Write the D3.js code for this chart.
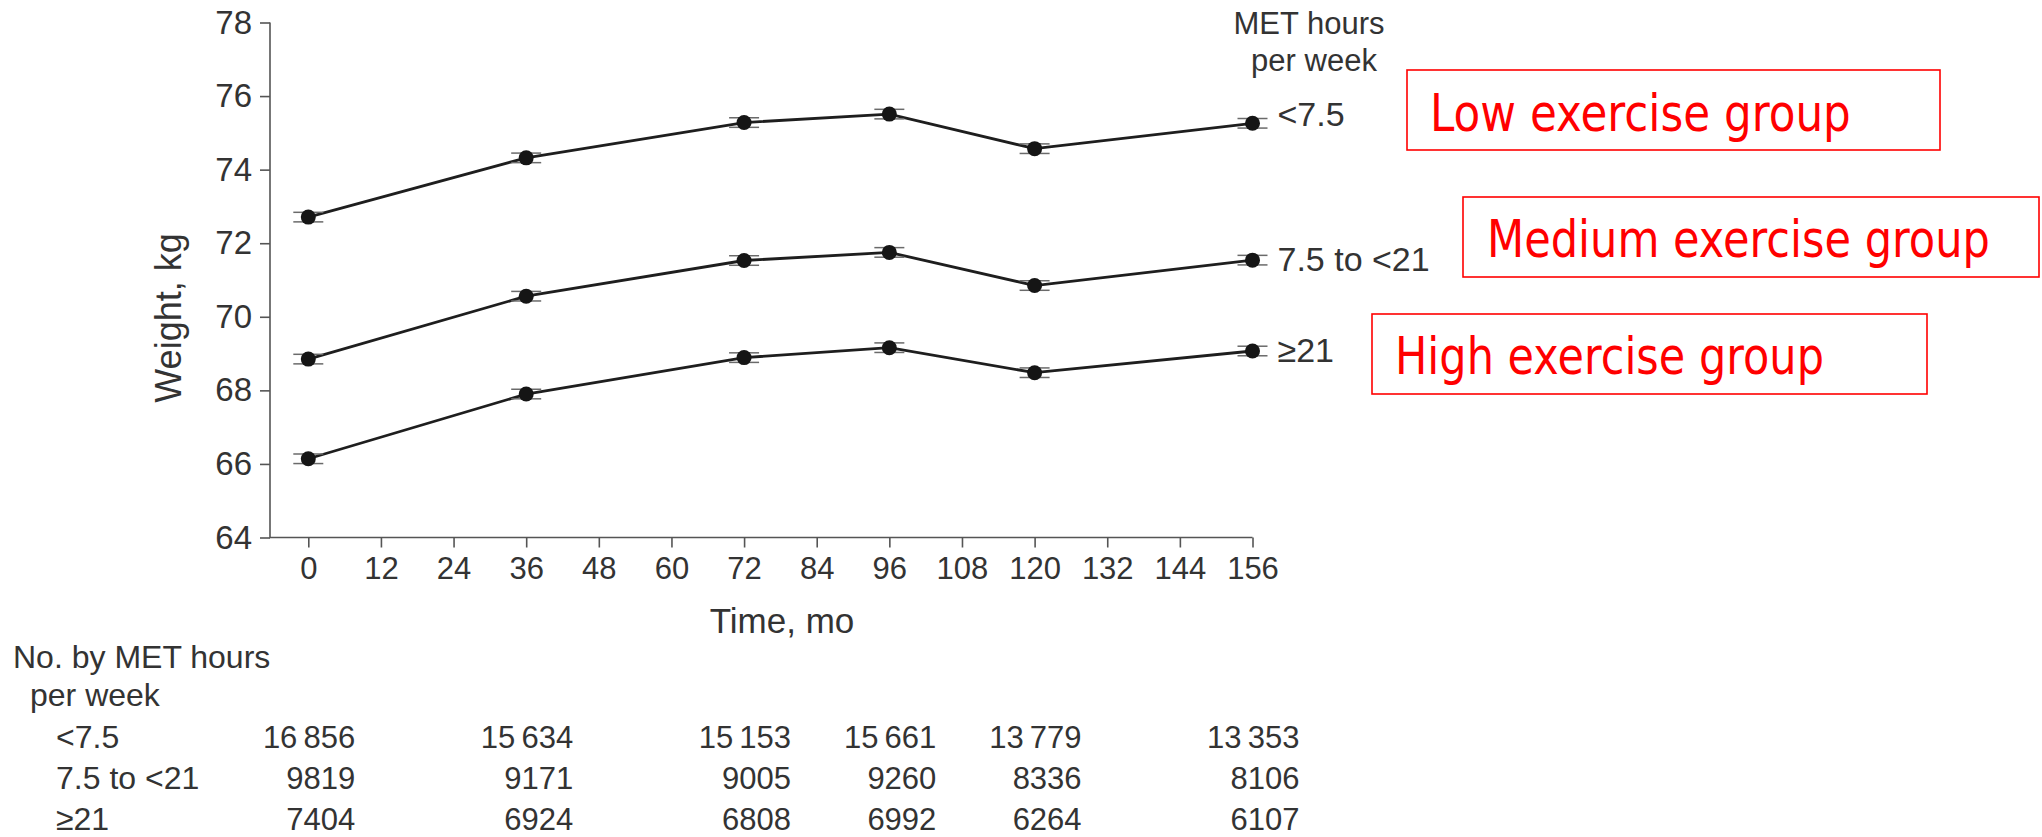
<!DOCTYPE html>
<html>
<head>
<meta charset="utf-8">
<script src="https://cdn.jsdelivr.net/npm/d3@7"></script>
<style>
  html, body { margin: 0; padding: 0; background: #fff; }
  svg { display: block; }
</style>
</head>
<body>
<svg id="chart" width="2042" height="837"></svg>
<script>
// Follow-up months at which weight was measured
const months = [0, 36, 72, 96, 120, 156];

// Mean weight (kg) by MET-hours-per-week group
const lowWeight    = [72.71, 74.32, 75.28, 75.51, 74.57, 75.26];
const mediumWeight = [68.85, 70.56, 71.53, 71.75, 70.85, 71.54];
const highWeight   = [66.14, 67.90, 68.89, 69.16, 68.48, 69.07];

// Standard error of the mean weight (kg)
const lowErr    = [0.13, 0.13, 0.13, 0.13, 0.13, 0.13];
const mediumErr = [0.13, 0.13, 0.13, 0.13, 0.13, 0.13];
const highErr   = [0.13, 0.13, 0.13, 0.13, 0.13, 0.13];

// Group labels
const groupLabels = ["<7.5", "7.5 to <21", "\u226521"];
const groupNames  = ["Low exercise group", "Medium exercise group", "High exercise group"];

// Number at risk per group at each measured month
const lowCounts    = ["16\u2009856", "15\u2009634", "15\u2009153", "15\u2009661", "13\u2009779", "13\u2009353"];
const mediumCounts = ["9819", "9171", "9005", "9260", "8336", "8106"];
const highCounts   = ["7404", "6924", "6808", "6992", "6264", "6107"];

// Axis ticks
const xTicks = d3.range(0, 157, 12);
const yTicks = d3.range(64, 79, 2);

const series = [
  { label: groupLabels[0], name: groupNames[0], values: lowWeight,    err: lowErr,    counts: lowCounts,    dy: 3 },
  { label: groupLabels[1], name: groupNames[1], values: mediumWeight, err: mediumErr, counts: mediumCounts, dy: 11 },
  { label: groupLabels[2], name: groupNames[2], values: highWeight,   err: highErr,   counts: highCounts,   dy: 11 }
];

const svg = d3.select("#chart");
const FONT = "'Liberation Sans', Arial, Helvetica, sans-serif";
const TXT = "#333";
const AXIS = "#555";

const x = d3.scaleLinear().domain([0, 156]).range([308.3, 1252.5]);
const y = d3.scaleLinear().domain([64, 78]).range([537.5, 22.5]);
const axisLeftX = 270;

// Axis lines
svg.append("path")
  .attr("d", `M${axisLeftX},${y(78)}V${y(64)}H${x(156)}`)
  .attr("fill", "none").attr("stroke", AXIS).attr("stroke-width", 1.6);

// Y axis ticks and labels
const yAxis = d3.axisLeft(y).tickValues(yTicks).tickSize(10).tickSizeOuter(0).tickPadding(8);
const gy = svg.append("g").attr("transform", `translate(${axisLeftX},0)`).call(yAxis);
gy.select(".domain").remove();
gy.selectAll(".tick line").attr("stroke", AXIS).attr("stroke-width", 1.6);
gy.selectAll(".tick text").attr("fill", TXT).style("font-family", FONT).style("font-size", "33px");

// X axis ticks and labels
const xAxis = d3.axisBottom(x).tickValues(xTicks).tickSize(10).tickSizeOuter(0).tickPadding(9);
const gx = svg.append("g").attr("transform", `translate(0,${y(64)})`).call(xAxis);
gx.select(".domain").remove();
gx.selectAll(".tick line").attr("stroke", AXIS).attr("stroke-width", 1.6);
gx.selectAll(".tick text").attr("fill", TXT).style("font-family", FONT).style("font-size", "31px");

// Axis titles
svg.append("text")
  .attr("transform", `translate(181,318) rotate(-90)`)
  .attr("text-anchor", "middle").attr("fill", TXT)
  .style("font-family", FONT).style("font-size", "36px")
  .text("Weight, kg");

svg.append("text")
  .attr("x", 782).attr("y", 633)
  .attr("text-anchor", "middle").attr("fill", TXT)
  .style("font-family", FONT).style("font-size", "35px")
  .text("Time, mo");

// Legend header
const hdr = svg.append("text").attr("text-anchor", "middle").attr("fill", TXT)
  .style("font-family", FONT).style("font-size", "31px");
hdr.append("tspan").attr("x", 1309).attr("y", 34).text("MET hours");
hdr.append("tspan").attr("x", 1314).attr("y", 71).text("per week");

// Lines, error bars and points
const line = d3.line().x((d, i) => x(months[i])).y(d => y(d));

series.forEach(s => {
  svg.append("path")
    .datum(s.values)
    .attr("d", line)
    .attr("fill", "none").attr("stroke", "#1e1e1e").attr("stroke-width", 2.8);

  const g = svg.append("g");
  s.values.forEach((v, i) => {
    const cx = x(months[i]);
    [v + s.err[i], v - s.err[i]].forEach(e => {
      g.append("line")
        .attr("x1", cx - 15).attr("x2", cx + 15)
        .attr("y1", y(e)).attr("y2", y(e))
        .attr("stroke", "#6a6a6a").attr("stroke-width", 1.5);
    });
    g.append("line")
      .attr("x1", cx).attr("x2", cx)
      .attr("y1", y(v + s.err[i])).attr("y2", y(v - s.err[i]))
      .attr("stroke", "#6a6a6a").attr("stroke-width", 1.5);
    g.append("circle")
      .attr("cx", cx).attr("cy", y(v)).attr("r", 7.5)
      .attr("fill", "#151515");
  });

  // Group label at the end of the line
  svg.append("text")
    .attr("x", x(156) + 25).attr("y", y(s.values[s.values.length - 1]) + s.dy)
    .attr("fill", TXT).style("font-family", FONT).style("font-size", "34px")
    .text(s.label);
});

// Numbers at risk table
const tbl = svg.append("g").style("font-family", FONT).attr("fill", TXT);
tbl.append("text").attr("x", 13).attr("y", 668).style("font-size", "32px").text("No. by MET hours");
tbl.append("text").attr("x", 30).attr("y", 706).style("font-size", "32px").text("per week");
const rowY = [748, 789, 830];
series.forEach((s, r) => {
  tbl.append("text").attr("x", 56).attr("y", rowY[r]).style("font-size", "32px").text(s.label);
  s.counts.forEach((c, i) => {
    tbl.append("text")
      .attr("x", x(months[i]) + 47).attr("y", rowY[r])
      .attr("text-anchor", "end").style("font-size", "31px").text(c);
  });
});

// Group annotation boxes
const boxes = [
  { x0: 1407, y0: 70,  x1: 1940, y1: 150, tx: 1430, ty: 131, tw: 421 },
  { x0: 1463, y0: 197, x1: 2039, y1: 277, tx: 1487, ty: 257, tw: 503 },
  { x0: 1372, y0: 314, x1: 1927, y1: 394, tx: 1395, ty: 374, tw: 429 }
];
boxes.forEach((b, i) => {
  svg.append("rect")
    .attr("x", b.x0).attr("y", b.y0)
    .attr("width", b.x1 - b.x0).attr("height", b.y1 - b.y0)
    .attr("fill", "none").attr("stroke", "#ff0000").attr("stroke-width", 1.6);
  const g = svg.append("g");
  const t = g.append("text")
    .attr("x", 0).attr("y", 0)
    .attr("fill", "#ff0000")
    .style("font-family", "'DejaVu Sans', Verdana, sans-serif").style("font-size", "51px")
    .text(series[i].name);
  // Narrow the text horizontally to the condensed face width
  const w = t.node().getComputedTextLength();
  g.attr("transform", `translate(${b.tx},${b.ty}) scale(${b.tw / w},1)`);
});
</script>
</body>
</html>
